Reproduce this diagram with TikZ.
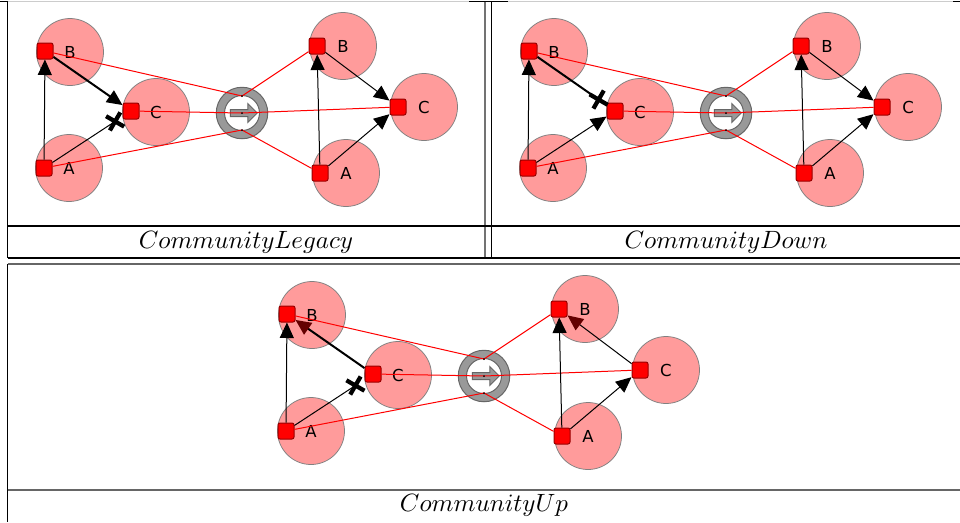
\documentclass[tikz,border=0pt]{standalone}
\usepackage{amsmath}
\usepackage{fontspec}
\usepackage{tikz}
\usetikzlibrary{arrows.meta,calc,shapes.misc,shapes.arrows}
\newfontfamily\labelfont{DejaVu Sans}
\definecolor{commpink}{RGB}{255,155,155}
\definecolor{headred}{RGB}{100,0,0}

\begin{document}
\begin{tikzpicture}[
		x=0.4pt, y=-0.4pt,
		comm/.style={circle, draw=black!50, line width=0.3pt, fill=commpink, minimum size=26.8pt, inner sep=0pt,
			font=\labelfont\fontsize{6.6}{7}\selectfont},
		sq/.style={rectangle, draw=red!60!black, fill=red, minimum size=6.4pt, inner sep=0pt, rounded corners=0.8pt},
		ring/.style={circle, draw=black!60, fill=black!40, minimum size=20.6pt, inner sep=0pt},
		hole/.style={circle, draw=black!60, fill=white, minimum size=14pt, inner sep=0pt},
		go/.style={single arrow, draw=black!60, fill=black!40, inner xsep=0pt, inner ysep=1.2pt,
			minimum width=7pt, single arrow head extend=2.4pt, minimum height=10.8pt},
		flow/.style={line width=0.4pt, -{Triangle[length=6.2pt, width=5.6pt]}},
		strong/.style={line width=0.8pt},
		up/.style={-{Triangle[length=6.2pt, width=5.6pt, color=headred]}},
		link/.style={red, line width=0.4pt},
		blocked/.style={cross out, draw, line width=1.7pt, minimum size=4.2pt, inner sep=0pt},
		caption/.style={font=\fontsize{10.1}{12}\selectfont}
	]
  \useasboundingbox (0,0) rectangle (960,522);

  % table lines
  \draw [black!20, line width=0.4pt] (0,1.5) -- (960,1.5);
  \draw [line width=0.5pt] (0,1.5) -- (8,1.5) (469,1.5) -- (508,1.5) (953,1.5) -- (960,1.5);
  \draw [line width=0.5pt] (7.5,1.5) -- (7.5,258) (491.5,1.5) -- (491.5,258);
  \draw [black!55, line width=0.8pt] (485,1.5) -- (485,258);
  \draw [line width=0.5pt] (7.5,226) -- (960,226) (7.5,258) -- (960,258);
  \draw [line width=0.5pt] (7.5,264) -- (7.5,522);
  \draw [black!60, line width=0.5pt] (7.5,264) -- (960,264);
  \draw [black!60, line width=0.8pt] (7.5,489.7) -- (960,489.7);

  % CommunityLegacy
  \node (cb1) [comm] at (70,52) {B};
  \node (ca1) [comm] at (69,168) {A};
  \node (cc1) [comm] at (156,112) {C};
  \node (crb1) [comm] at (343,46) {B};
  \node (crc1) [comm] at (424,107) {C};
  \node (cra1) [comm] at (346,173) {A};
  \node (t1) [ring] at (242,113) {};
  \node (h1) [hole] at (t1) {};
  \node (g1) [go] at (t1) {};
  \node (b1) [sq] at (45,51) {};
  \node (a1) [sq] at (44,168) {};
  \node (c1) [sq] at (131,111) {};
  \node (rb1) [sq] at (317,46) {};
  \node (rc1) [sq] at (398,107) {};
  \node (ra1) [sq] at (320,173) {};
  \coordinate (t1u) at (242,96);
  \coordinate (t1d) at (242,130);
  \coordinate (x1) at ($(c1)!7.6pt!(a1)$);
  \draw [link] (b1) -- (t1u) -- (rb1);
  \draw [link] (c1) -- (t1.center) -- (rc1);
  \draw [link] (a1) -- (t1d) -- (ra1);
  \fill (t1u) circle (1) (t1) circle (1) (t1d) circle (1);
  \draw [flow] (a1) -- (b1);
  \draw [flow, strong] (b1) -- (c1);
  \draw (a1) -- (x1);
  \node (k1) [blocked, rotate=15] at (x1) {};
  \draw [flow] (ra1) -- (rb1);
  \draw [flow] (rb1) -- (rc1);
  \draw [flow] (ra1) -- (rc1);
  \node (n1) [caption] at (246,242) {$CommunityLegacy$};

  % CommunityDown
  \begin{scope}[shift={(484,0)}]
  \node (cb2) [comm] at (70,52) {B};
  \node (ca2) [comm] at (69,168) {A};
  \node (cc2) [comm] at (156,112) {C};
  \node (crb2) [comm] at (343,46) {B};
  \node (crc2) [comm] at (424,107) {C};
  \node (cra2) [comm] at (346,173) {A};
  \node (t2) [ring] at (242,113) {};
  \node (h2) [hole] at (t2) {};
  \node (g2) [go] at (t2) {};
  \node (b2) [sq] at (45,51) {};
  \node (a2) [sq] at (44,168) {};
  \node (c2) [sq] at (131,111) {};
  \node (rb2) [sq] at (317,46) {};
  \node (rc2) [sq] at (398,107) {};
  \node (ra2) [sq] at (320,173) {};
  \coordinate (t2u) at (242,96);
  \coordinate (t2d) at (242,130);
  \coordinate (x2) at ($(c2)!8pt!(b2)$);
  \draw [link] (b2) -- (t2u) -- (rb2);
  \draw [link] (c2) -- (t2.center) -- (rc2);
  \draw [link] (a2) -- (t2d) -- (ra2);
  \fill (t2u) circle (1) (t2) circle (1) (t2d) circle (1);
  \draw [flow] (a2) -- (b2);
  \draw [flow] (a2) -- (c2);
  \draw [strong] (b2) -- (x2);
  \node (k2) [blocked, rotate=15] at (x2) {};
  \draw [flow] (ra2) -- (rb2);
  \draw [flow] (rb2) -- (rc2);
  \draw [flow] (ra2) -- (rc2);
  \node (n2) [caption] at (242,242) {$CommunityDown$};
  \end{scope}

  % CommunityUp
  \begin{scope}[shift={(242,263)}]
  \node (cb3) [comm] at (70,52) {B};
  \node (ca3) [comm] at (69,168) {A};
  \node (cc3) [comm] at (156,112) {C};
  \node (crb3) [comm] at (343,46) {B};
  \node (crc3) [comm] at (424,107) {C};
  \node (cra3) [comm] at (346,173) {A};
  \node (t3) [ring] at (242,113) {};
  \node (h3) [hole] at (t3) {};
  \node (g3) [go] at (t3) {};
  \node (b3) [sq] at (45,51) {};
  \node (a3) [sq] at (44,168) {};
  \node (c3) [sq] at (131,111) {};
  \node (rb3) [sq] at (317,46) {};
  \node (rc3) [sq] at (398,107) {};
  \node (ra3) [sq] at (320,173) {};
  \coordinate (t3u) at (242,96);
  \coordinate (t3d) at (242,130);
  \coordinate (x3) at ($(c3)!8.4pt!(a3)$);
  \draw [link] (b3) -- (t3u) -- (rb3);
  \draw [link] (c3) -- (t3.center) -- (rc3);
  \draw [link] (a3) -- (t3d) -- (ra3);
  \fill (t3u) circle (1) (t3) circle (1) (t3d) circle (1);
  \draw [flow] (a3) -- (b3);
  \draw [up, strong] (c3) -- (b3);
  \draw (a3) -- (x3);
  \node (k3) [blocked, rotate=15] at (x3) {};
  \draw [flow] (ra3) -- (rb3);
  \draw [up] (rc3) -- (rb3);
  \draw [flow] (ra3) -- (rc3);
  \node (n3) [caption] at (242,242) {$CommunityUp$};
  \end{scope}
\end{tikzpicture}
\end{document}
